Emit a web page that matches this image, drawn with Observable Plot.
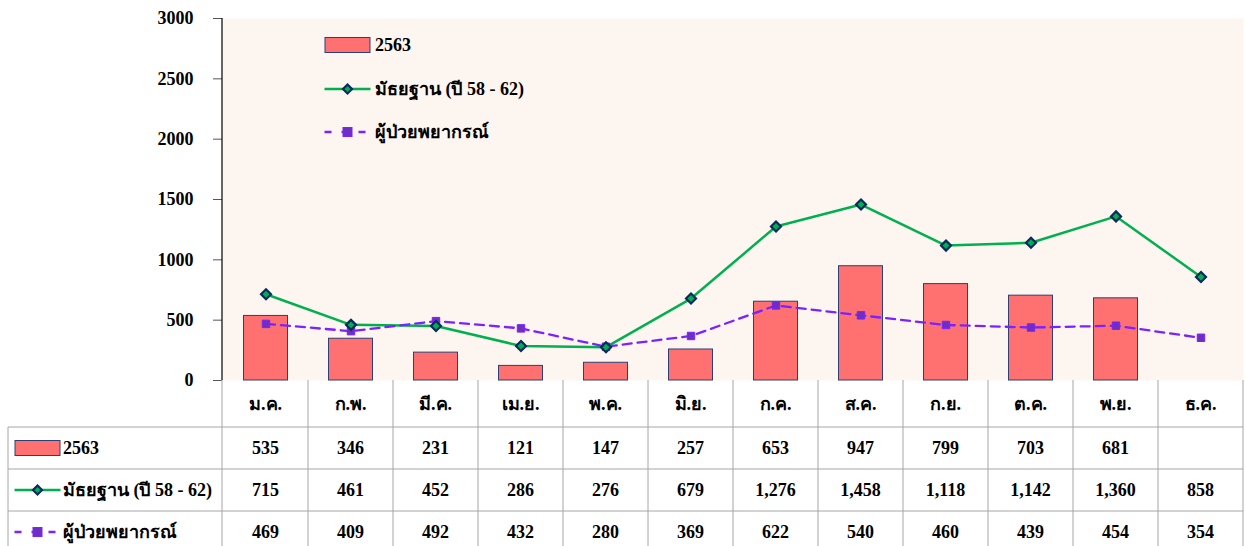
<!DOCTYPE html>
<html><head><meta charset="utf-8">
<script src="https://cdn.jsdelivr.net/npm/d3@7"></script>
<script src="https://cdn.jsdelivr.net/npm/@observablehq/plot@0.6"></script>
<style>body{margin:0;background:#fff}</style>
</head><body><div id="chart"></div>
<script>
const months = ["ม.ค.","ก.พ.","มี.ค.","เม.ย.","พ.ค.","มิ.ย.","ก.ค.","ส.ค.","ก.ย.","ต.ค.","พ.ย.","ธ.ค."];
const cases2563 = [535,346,231,121,147,257,653,947,799,703,681,null];
const median5862 = [715,461,452,286,276,679,1276,1458,1118,1142,1360,858];
const forecast = [469,409,492,432,280,369,622,540,460,439,454,354];
const yTicks = [0,500,1000,1500,2000,2500,3000];
const seriesNames = ["2563","มัธยฐาน (ปี 58 - 62)","ผู้ป่วยพยากรณ์"];

const FONT = "'Liberation Serif','Times New Roman',serif";
const FS = 18;
const BAR_FILL = "#FF7070", BAR_STROKE = "#2E3F78";
const GREEN = "#00B050", NAVY = "#0B2A5E";
const PURPLE = "#7B22FF", PURPLE_DOT = "#6E2EC4";
const GRID = "#A6A6A6";

const bars = months.map((m,i)=>({month:m, value:cases2563[i]})).filter(d=>d.value!=null);
const med = months.map((m,i)=>({month:m, value:median5862[i]}));
const fc = months.map((m,i)=>({month:m, value:forecast[i]}));
const fmt = d3.format(",");

function drawSwatch(g, kind, cx, cy) {
  if (kind === 0) {
    g.append("rect").attr("x", cx-22.5).attr("y", cy-7.5).attr("width",45).attr("height",15)
      .attr("fill",BAR_FILL).attr("stroke",BAR_STROKE).attr("stroke-width",1);
  } else if (kind === 1) {
    g.append("line").attr("x1",cx-23).attr("x2",cx+23).attr("y1",cy).attr("y2",cy)
      .attr("stroke",GREEN).attr("stroke-width",2.5);
    g.append("path").attr("d",`M${cx},${cy-4.5}L${cx+4.5},${cy}L${cx},${cy+4.5}L${cx-4.5},${cy}Z`)
      .attr("fill",GREEN).attr("stroke",NAVY).attr("stroke-width",2.2);
  } else {
    g.append("line").attr("x1",cx-23).attr("x2",cx+23).attr("y1",cy).attr("y2",cy)
      .attr("stroke",PURPLE).attr("stroke-width",2.5).attr("stroke-dasharray","7,10");
    g.append("rect").attr("x",cx-4.5).attr("y",cy-4.5).attr("width",9).attr("height",9)
      .attr("fill",PURPLE_DOT).attr("stroke",PURPLE).attr("stroke-width",1);
  }
}

function tableAndLegend(index, scales, values, dims) {
  const x = scales.x;
  const left = dims.marginLeft, right = dims.width - dims.marginRight;
  const top = dims.marginTop;
  const y0 = dims.height - dims.marginBottom;
  const bw = x.bandwidth ? x.bandwidth() : (right-left)/months.length;
  const headH = 47, rowH = 42;
  const tableLeft = 8;
  const g = d3.create("svg:g").attr("font-family", FONT).attr("font-weight","bold").attr("font-size",FS);
  g.append("line").attr("x1",left).attr("x2",left).attr("y1",top).attr("y2",y0).attr("stroke","#000").attr("stroke-width",1.2);
  const rowsY = [y0+headH, y0+headH+rowH, y0+headH+2*rowH, y0+headH+3*rowH];
  rowsY.forEach(yy => g.append("line").attr("x1",tableLeft).attr("x2",right).attr("y1",yy).attr("y2",yy).attr("stroke",GRID));
  months.forEach((m,i) => {
    const xx = x(m);
    if (i > 0) g.append("line").attr("x1",xx).attr("x2",xx).attr("y1",y0).attr("y2",rowsY[3]).attr("stroke",GRID);
  });
  g.append("line").attr("x1",right).attr("x2",right).attr("y1",y0).attr("y2",rowsY[3]).attr("stroke",GRID);
  g.append("line").attr("x1",left).attr("x2",left).attr("y1",y0).attr("y2",rowsY[3]).attr("stroke",GRID);
  g.append("line").attr("x1",tableLeft).attr("x2",tableLeft).attr("y1",rowsY[0]).attr("y2",rowsY[3]).attr("stroke",GRID);
  months.forEach(m => g.append("text").attr("x", x(m)+bw/2).attr("y", y0+headH/2).attr("dy","0.35em")
    .attr("text-anchor","middle").attr("fill","#000").text(m));
  const rows = [cases2563, median5862, forecast];
  rows.forEach((arr, r) => {
    const cy = rowsY[r] + rowH/2;
    drawSwatch(g, r, 37.5, cy);
    g.append("text").attr("x",63).attr("y",cy).attr("dy","0.35em").attr("text-anchor","start").attr("fill","#000").text(seriesNames[r]);
    arr.forEach((v,i) => {
      if (v == null) return;
      g.append("text").attr("x", x(months[i])+bw/2).attr("y", cy).attr("dy","0.35em")
        .attr("text-anchor","middle").attr("fill","#000").text(fmt(v));
    });
  });
  [45, 89, 132].forEach((ly, r) => {
    drawSwatch(g, r, 347.5, ly);
    g.append("text").attr("x",375).attr("y",ly).attr("dy","0.35em").attr("text-anchor","start").attr("fill","#000").text(seriesNames[r]);
  });
  return g.node();
}

const chart = Plot.plot({
  width: 1246,
  height: 546,
  marginLeft: 222,
  marginRight: 3,
  marginTop: 18,
  marginBottom: 166,
  style: {background: "#fff", fontFamily: FONT, overflow: "visible"},
  x: {type: "band", domain: months, padding: 0, axis: null},
  y: {domain: [0, 3000], axis: null},
  marks: [
    Plot.frame({fill: "#FDF5EF", stroke: null}),
    Plot.axisY({ticks: yTicks, tickSize: 9, tickPadding: 20, tickFormat: d => String(d), label: null,
      fontSize: FS, fontWeight: "bold", fill: "#000", stroke: "#555", fontFamily: FONT}),
    Plot.barY(bars, {x: "month", y: "value", fill: BAR_FILL, stroke: BAR_STROKE, strokeWidth: 1, insetLeft: 20.5, insetRight: 20.5}),
    Plot.line(med, {x: "month", y: "value", stroke: GREEN, strokeWidth: 2.5}),
    Plot.line(fc, {x: "month", y: "value", stroke: PURPLE, strokeWidth: 2.3, strokeDasharray: "9,6"}),
    Plot.dot(fc, {x: "month", y: "value", symbol: "square", r: 4.2, fill: PURPLE_DOT, stroke: PURPLE, strokeWidth: 1}),
    Plot.dot(med, {x: "month", y: "value", symbol: "diamond2", r: 4.5, fill: GREEN, stroke: NAVY, strokeWidth: 2.2}),
    tableAndLegend
  ]
});
document.getElementById("chart").appendChild(chart);
</script>
</body></html>
